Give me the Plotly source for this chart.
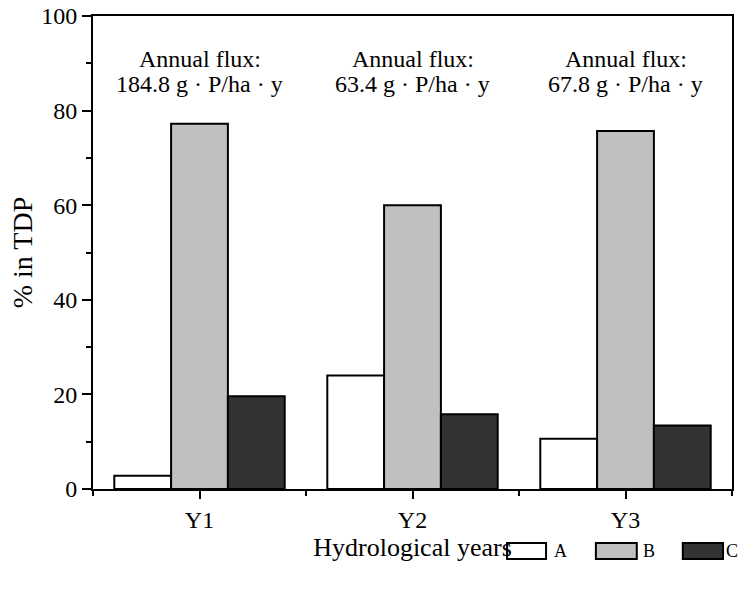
import plotly.graph_objects as go

categories = ["Y1", "Y2", "Y3"]
series_names = ["A", "B", "C"]
values_A = [2.8, 24.0, 10.6]
values_B = [77.2, 60.0, 75.7]
values_C = [19.6, 15.8, 13.4]
flux_values = ["184.8", "63.4", "67.8"]
y_ticks = [0, 20, 40, 60, 80, 100]

colors = {"A": "#ffffff", "B": "#c0c0c0", "C": "#333333"}
FONT = "Liberation Serif"

xpos = list(range(len(categories)))

fig = go.Figure()
for name, vals in zip(series_names, [values_A, values_B, values_C]):
    fig.add_trace(go.Bar(
        x=xpos, y=vals, name=name, showlegend=False,
        marker=dict(color=colors[name], line=dict(color="black", width=2)),
    ))

SP = '<span style="letter-spacing:6px">'
for i, fv in enumerate(flux_values):
    fig.add_annotation(x=i, y=91.0, text="Annual flux:", showarrow=False,
                       font=dict(family=FONT, size=24, color="black"),
                       xref="x", yref="y")
    fig.add_annotation(x=i, y=85.6,
                       text=f"{fv} {SP}g·</span>P/h{SP}a·</span>y",
                       showarrow=False,
                       font=dict(family=FONT, size=24, color="black"),
                       xref="x", yref="y")

# manual legend (wide swatches as in the reference)
legend_x = [(0.648, 0.709, 0.719), (0.787, 0.851, 0.858), (0.923, 0.986, 0.988)]
for name, (x0, x1, xl) in zip(series_names, legend_x):
    fig.add_shape(type="rect", xref="paper", yref="paper",
                  x0=x0, x1=x1, y0=-0.148, y1=-0.114,
                  fillcolor=colors[name], line=dict(color="black", width=2))
    fig.add_annotation(xref="paper", yref="paper", x=xl, y=-0.131,
                       xanchor="left", yanchor="middle", text=name, showarrow=False,
                       font=dict(family=FONT, size=18, color="black"))

fig.update_layout(
    width=742, height=591,
    margin=dict(l=93, r=10, t=16, b=102),
    plot_bgcolor="white", paper_bgcolor="white",
    barmode="group", bargap=0.2, bargroupgap=0,
    font=dict(family=FONT, size=24, color="black"),
    showlegend=False,
    xaxis=dict(
        range=[-0.5, len(categories) - 0.5],
        tickvals=xpos, ticktext=categories,
        automargin=False,
        showline=True, linecolor="black", linewidth=2, mirror=True,
        ticks="outside", ticklen=8, tickwidth=2, tickcolor="black",
        minor=dict(tick0=0.5, dtick=1, ticks="outside", ticklen=5, tickwidth=2, tickcolor="black"),
        showgrid=False, zeroline=False,
        title=dict(text="Hydrological years", font=dict(family=FONT, size=26), standoff=6),
        tickfont=dict(family=FONT, size=24),
    ),
    yaxis=dict(
        range=[0, 100],
        tickvals=y_ticks,
        automargin=False,
        ticklabeloverflow="allow",
        showline=True, linecolor="black", linewidth=2, mirror=True,
        ticks="outside", ticklen=9, tickwidth=2, tickcolor="black",
        minor=dict(tick0=10, dtick=20, ticks="outside", ticklen=5, tickwidth=2, tickcolor="black"),
        showgrid=False, zeroline=False,
        title=dict(text="% in TDP", font=dict(family=FONT, size=28), standoff=0),
        tickfont=dict(family=FONT, size=24),
    ),
)

fig.write_html(
    "out.html",
    config={"displayModeBar": False},
    post_script="document.body.style.margin='0';document.body.style.overflow='hidden';",
)
